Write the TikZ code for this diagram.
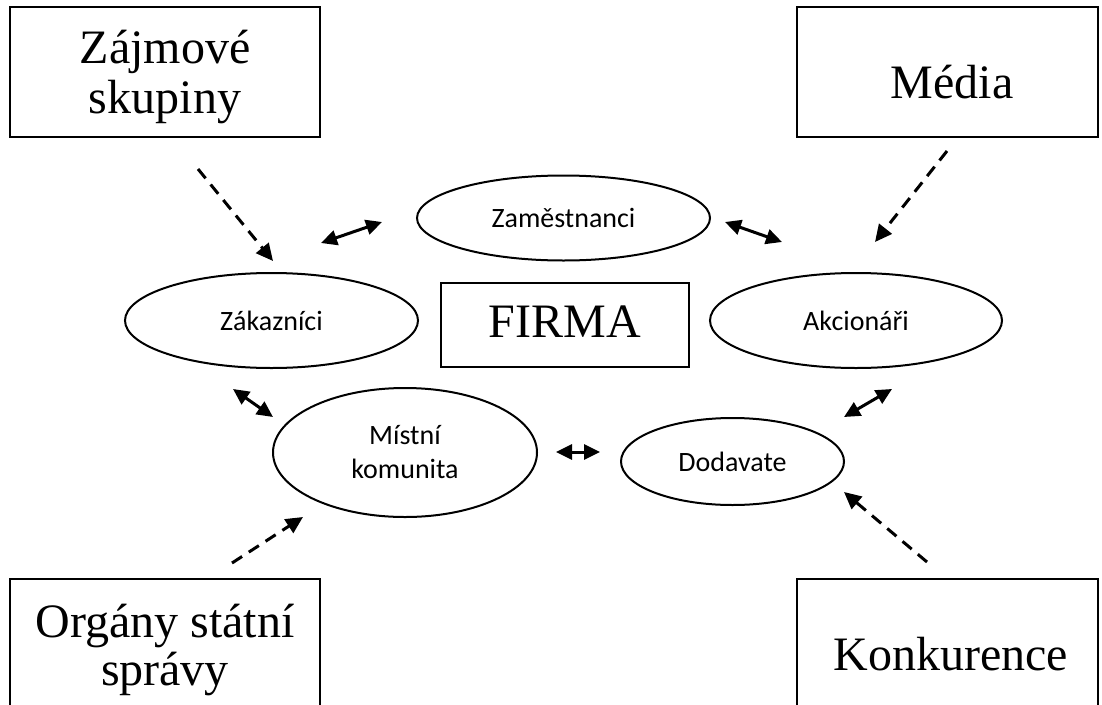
\documentclass[tikz,border=0pt]{standalone}
\usepackage{fontspec}
\setmainfont{Liberation Serif}
\newfontfamily\calfont{Carlito}
\usetikzlibrary{arrows.meta,shapes.geometric}

\tikzset{
  bigbox/.style={draw, line width=2pt, rectangle, inner sep=0pt},
  bigtext/.style={font=\fontsize{48}{50}\selectfont, align=center, inner sep=0pt},
  party/.style={draw, line width=2pt, ellipse, inner sep=0pt,
    font=\calfont\fontsize{28}{34}\selectfont, align=center},
  influence/.style={line width=3pt, dash pattern=on 12pt off 8pt,
    -{Triangle[length=17pt,width=16pt]}},
  mutual/.style={line width=3pt,
    {Triangle[length=16pt,width=15pt]}-{Triangle[length=16pt,width=15pt]}}
}

\begin{document}
\begin{tikzpicture}[x=1pt,y=-1pt]
\useasboundingbox (0,0) rectangle (1102,704);
\clip (0,0) rectangle (1102,704);

% outer stakeholder boxes
\node[bigbox, minimum width=310pt, minimum height=130pt] (zajmove) at (165,72) {};
\node[bigtext, anchor=base] (zajmovetxt) at (165,63) {Zájmové};
\node[bigtext, anchor=base] (skupinytxt) at (165,113) {skupiny};

\node[bigbox, minimum width=301pt, minimum height=130pt] (media) at (947.5,72) {};
\node[bigtext, anchor=base] (mediatxt) at (952,98) {Média};

\node[bigbox, minimum width=310pt, minimum height=160pt] (organy) at (165,659) {};
\node[bigtext, anchor=base] (organytxt) at (165,637) {Orgány státní};
\node[bigtext, anchor=base] (spravytxt) at (165,685) {správy};

\node[bigbox, minimum width=301pt, minimum height=160pt] (konk) at (947.5,659) {};
\node[bigtext, anchor=base] (konktxt) at (951,670) {Konkurence};

% the firm
\node[bigbox, minimum width=248pt, minimum height=84pt] (firma) at (565,325) {};
\node[bigtext, anchor=base] (firmatxt) at (565,337) {FIRMA};

% internal stakeholders
\node[party, minimum width=293pt, minimum height=85pt] (zam) at (563.5,218) {Zaměstnanci};
\node[party, minimum width=293pt, minimum height=95pt] (zak) at (271.5,320.5) {Zákazníci};
\node[party, minimum width=292pt, minimum height=95pt] (akc) at (856,320.5) {Akcionáři};
\node[party, minimum width=264pt, minimum height=129pt] (mist) at (405,452.5) {Místní\\komunita};
\node[party, minimum width=223pt, minimum height=87pt] (dod) at (732.5,461.5) {Dodavate};

% arrow end points
\coordinate (a1s) at (198,169);  \coordinate (a1e) at (273,261);
\coordinate (a2s) at (947,151);  \coordinate (a2e) at (875,242);
\coordinate (a3s) at (232,563);  \coordinate (a3e) at (303,517);
\coordinate (a4s) at (927,562);  \coordinate (a4e) at (844,492);

\coordinate (b1s) at (321,243);  \coordinate (b1e) at (382,222);
\coordinate (b2s) at (725,222);  \coordinate (b2e) at (782,242);
\coordinate (b3s) at (233,389);  \coordinate (b3e) at (273,417);
\coordinate (b4s) at (556,452);  \coordinate (b4e) at (600,452);
\coordinate (b5s) at (844,417);  \coordinate (b5e) at (892,389);

% external influence (dashed)
\draw[influence] (a1s) -- (a1e);
\draw[influence] (a2s) -- (a2e);
\draw[influence] (a3s) -- (a3e);
\draw[influence] (a4s) -- (a4e);

% mutual relations
\draw[mutual] (b1s) -- (b1e);
\draw[mutual] (b2s) -- (b2e);
\draw[mutual] (b3s) -- (b3e);
\draw[mutual] (b4s) -- (b4e);
\draw[mutual] (b5s) -- (b5e);
\end{tikzpicture}
\end{document}
